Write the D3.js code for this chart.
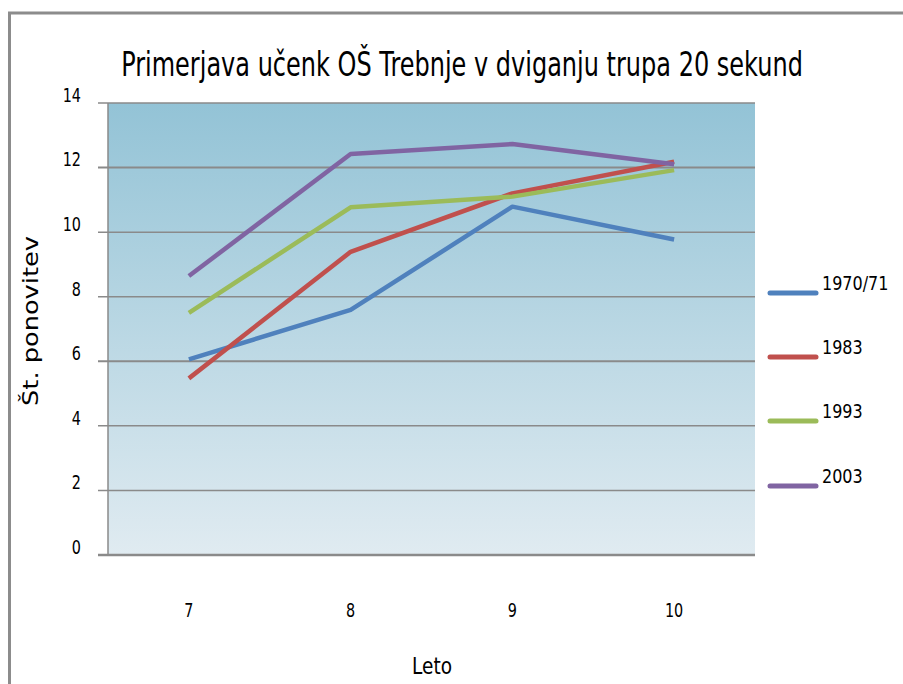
<!DOCTYPE html>
<html>
<head>
<meta charset="utf-8">
<script src="https://cdn.jsdelivr.net/npm/d3@7"></script>
<style>
  body { margin: 0; background: #fff; }
  svg { display: block; }
  text { font-family: "DejaVu Sans", "Liberation Sans", sans-serif; fill: #000; }
</style>
</head>
<body>
<svg id="chart" width="903" height="684"></svg>
<script>
const categories = ["7", "8", "9", "10"];
const seriesNames = ["1970/71", "1983", "1993", "2003"];
const values1970 = [6.06, 7.59, 10.79, 9.77];
const values1983 = [5.47, 9.39, 11.2, 12.18];
const values1993 = [7.5, 10.77, 11.1, 11.92];
const values2003 = [8.64, 12.42, 12.73, 12.1];
const yTicks = [0, 2, 4, 6, 8, 10, 12, 14];
const colors = ["#4F81BD", "#C0504D", "#9BBB59", "#8064A2"];
const titleText = "Primerjava učenk OŠ Trebnje v dviganju trupa 20 sekund";
const yTitle = "Št. ponovitev";
const xTitle = "Leto";

const series = seriesNames.map((name, i) => ({
  name, color: colors[i],
  values: [values1970, values1983, values1993, values2003][i]
}));

const svg = d3.select("#chart");
const plot = { left: 108, right: 755, top: 103, bottom: 555 };

const x = d3.scaleBand().domain(categories).range([plot.left, plot.right]);
const y = d3.scaleLinear().domain([0, 14]).range([plot.bottom, plot.top]);

// outer frame (top and left visible)
svg.append("path")
  .attr("d", `M9.5,684 L9.5,13 L903,13`)
  .attr("fill", "none").attr("stroke", "#8c8c8c").attr("stroke-width", 3);

// gradient background
const defs = svg.append("defs");
const grad = defs.append("linearGradient").attr("id", "bg")
  .attr("x1", 0).attr("y1", 0).attr("x2", 0).attr("y2", 1);
grad.append("stop").attr("offset", "0%").attr("stop-color", "#93C3D6");
grad.append("stop").attr("offset", "100%").attr("stop-color", "#E0EBF1");

svg.append("rect")
  .attr("x", plot.left).attr("y", plot.top)
  .attr("width", plot.right - plot.left).attr("height", plot.bottom - plot.top)
  .attr("fill", "url(#bg)");

// gridlines
svg.append("g").selectAll("line").data(yTicks.filter(d => d > 0)).join("line")
  .attr("x1", 98).attr("x2", plot.right)
  .attr("y1", d => y(d)).attr("y2", d => y(d))
  .attr("stroke", "#8a8a8a").attr("stroke-width", d => (d === 12 || d === 6) ? 2 : 1.5);

// left axis line
svg.append("line")
  .attr("x1", plot.left).attr("x2", plot.left)
  .attr("y1", plot.top).attr("y2", plot.bottom)
  .attr("stroke", "#8a8a8a").attr("stroke-width", 1.5);

// bottom axis
svg.append("line")
  .attr("x1", 98).attr("x2", plot.right)
  .attr("y1", plot.bottom).attr("y2", plot.bottom)
  .attr("stroke", "#8a8a8a").attr("stroke-width", 2.5);

// y tick labels (condensed)
svg.append("g").selectAll("text").data(yTicks).join("text")
  .attr("transform", d => `translate(81,${y(d) - 8}) scale(0.72,1)`)
  .attr("text-anchor", "end").attr("dominant-baseline", "central")
  .attr("font-size", 20)
  .text(d => d);

// x tick labels (condensed)
svg.append("g").selectAll("text").data(categories).join("text")
  .attr("transform", d => `translate(${x(d) + x.bandwidth() / 2},610) scale(0.72,1)`)
  .attr("text-anchor", "middle").attr("dominant-baseline", "central")
  .attr("font-size", 20)
  .text(d => d);

// lines
const line = d3.line()
  .x((d, i) => x(categories[i]) + x.bandwidth() / 2)
  .y(d => y(d));

svg.append("g").selectAll("path").data(series).join("path")
  .attr("d", d => line(d.values))
  .attr("fill", "none")
  .attr("stroke", d => d.color)
  .attr("stroke-width", 4.5)
  .attr("stroke-linejoin", "round")
  .attr("stroke-linecap", "butt");

// legend
const legY = [293, 357, 421, 486];
const lg = svg.append("g").selectAll("g").data(series).join("g")
  .attr("transform", (d, i) => `translate(0,${legY[i]})`);
lg.append("line")
  .attr("x1", 770).attr("x2", 816).attr("y1", 0).attr("y2", 0)
  .attr("stroke", d => d.color).attr("stroke-width", 5).attr("stroke-linecap", "round");
lg.append("text")
  .attr("transform", "translate(822,-3) scale(0.8,1)")
  .attr("font-size", 20)
  .text(d => d.name);

// title, condensed to the reference width
const title = svg.append("text")
  .attr("text-anchor", "middle")
  .attr("font-size", 33)
  .text(titleText);
const tw = title.node().getComputedTextLength();
title.attr("transform", `translate(462,76) scale(${682 / tw},1)`);

// y title
const yt = svg.append("text")
  .attr("text-anchor", "middle")
  .attr("font-size", 22)
  .text(yTitle);
const ytw = yt.node().getComputedTextLength();
yt.attr("transform", `translate(38,321) rotate(-90) scale(${170 / ytw},1)`);

// x title
const xt = svg.append("text")
  .attr("text-anchor", "middle")
  .attr("font-size", 23)
  .text(xTitle);
const xtw = xt.node().getComputedTextLength();
xt.attr("transform", `translate(432,674) scale(${40 / xtw},1)`);
</script>
</body>
</html>
